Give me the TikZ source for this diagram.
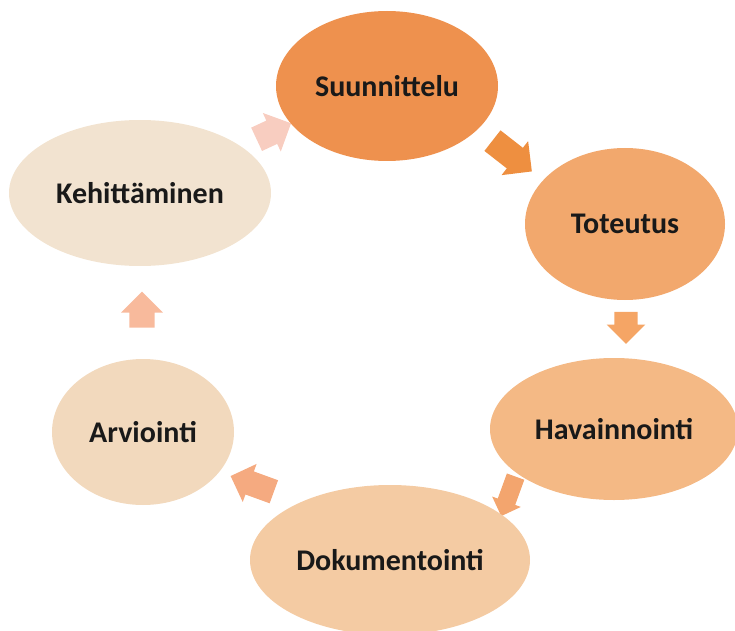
\documentclass[tikz,border=0pt]{standalone}
\usepackage{fontspec}
\setmainfont{Carlito}
\usetikzlibrary{shapes.geometric,shapes.arrows}
\definecolor{c1}{HTML}{EE914E}
\definecolor{c2}{HTML}{F2A86D}
\definecolor{c3}{HTML}{F4B985}
\definecolor{c4}{HTML}{F4CBA3}
\definecolor{c5}{HTML}{F2D9BD}
\definecolor{c6}{HTML}{F2E3D0}
\definecolor{n1c}{HTML}{EE8F40}
\definecolor{n2c}{HTML}{F5A565}
\definecolor{n3c}{HTML}{F3A56E}
\definecolor{n4c}{HTML}{F5AA80}
\definecolor{n5c}{HTML}{F8BA9C}
\definecolor{n6c}{HTML}{F8CDC0}
\begin{document}
\begin{tikzpicture}[
        x=0.75pt, y=-0.75pt,
        vaihe/.style 2 args={ellipse, inner sep=0pt, minimum width=#1, minimum height=#2,
            font=\fontsize{22.5}{27}\selectfont\bfseries, text=black!90}, % Ellipsit
        nuoli/.style 2 args={single arrow, inner xsep=0pt, inner ysep=0.3*#2,
            single arrow head extend=0.2*#2, minimum height=#1, minimum width=#2},
    ]
    \useasboundingbox (0,0) rectangle (735,631);

    % nuolet ensin, ellipsit paalle
    \node[nuoli={37.5}{32}, fill=n1c, rotate=-38] (n1) at (507,152) {};
    \node[nuoli={24}{28.5}, fill=n2c, rotate=-90] (n2) at (626,322) {};
    \node[nuoli={31.5}{22.5}, fill=n3c, rotate=-110] (n3) at (510,492) {};
    \node[nuoli={34.5}{30}, fill=n4c, rotate=160] (n4) at (258,486) {};
    \node[nuoli={27}{31}, fill=n5c, rotate=90] (n5) at (142,316) {};
    \node[nuoli={28.5}{31.5}, fill=n6c, rotate=25] (n6) at (268,134) {};

    \node[vaihe={166.5}{112.5}, fill=c1] (suun) at (387,86) {Suunnittelu};
    \node[vaihe={150}{114}, fill=c2] (tot) at (625,224) {Toteutus};
    \node[vaihe={186}{106.5}, fill=c3] (hav) at (614,429) {Havainnointi};
    \node[vaihe={210}{112.5}, fill=c4] (dok) at (390,560) {Dokumentointi};
    \node[vaihe={136.5}{109.5}, fill=c5] (arv) at (143,432) {Arviointi};
    \node[vaihe={196.5}{109.5}, fill=c6] (keh) at (140,193) {Kehittäminen};
\end{tikzpicture}
\end{document}
